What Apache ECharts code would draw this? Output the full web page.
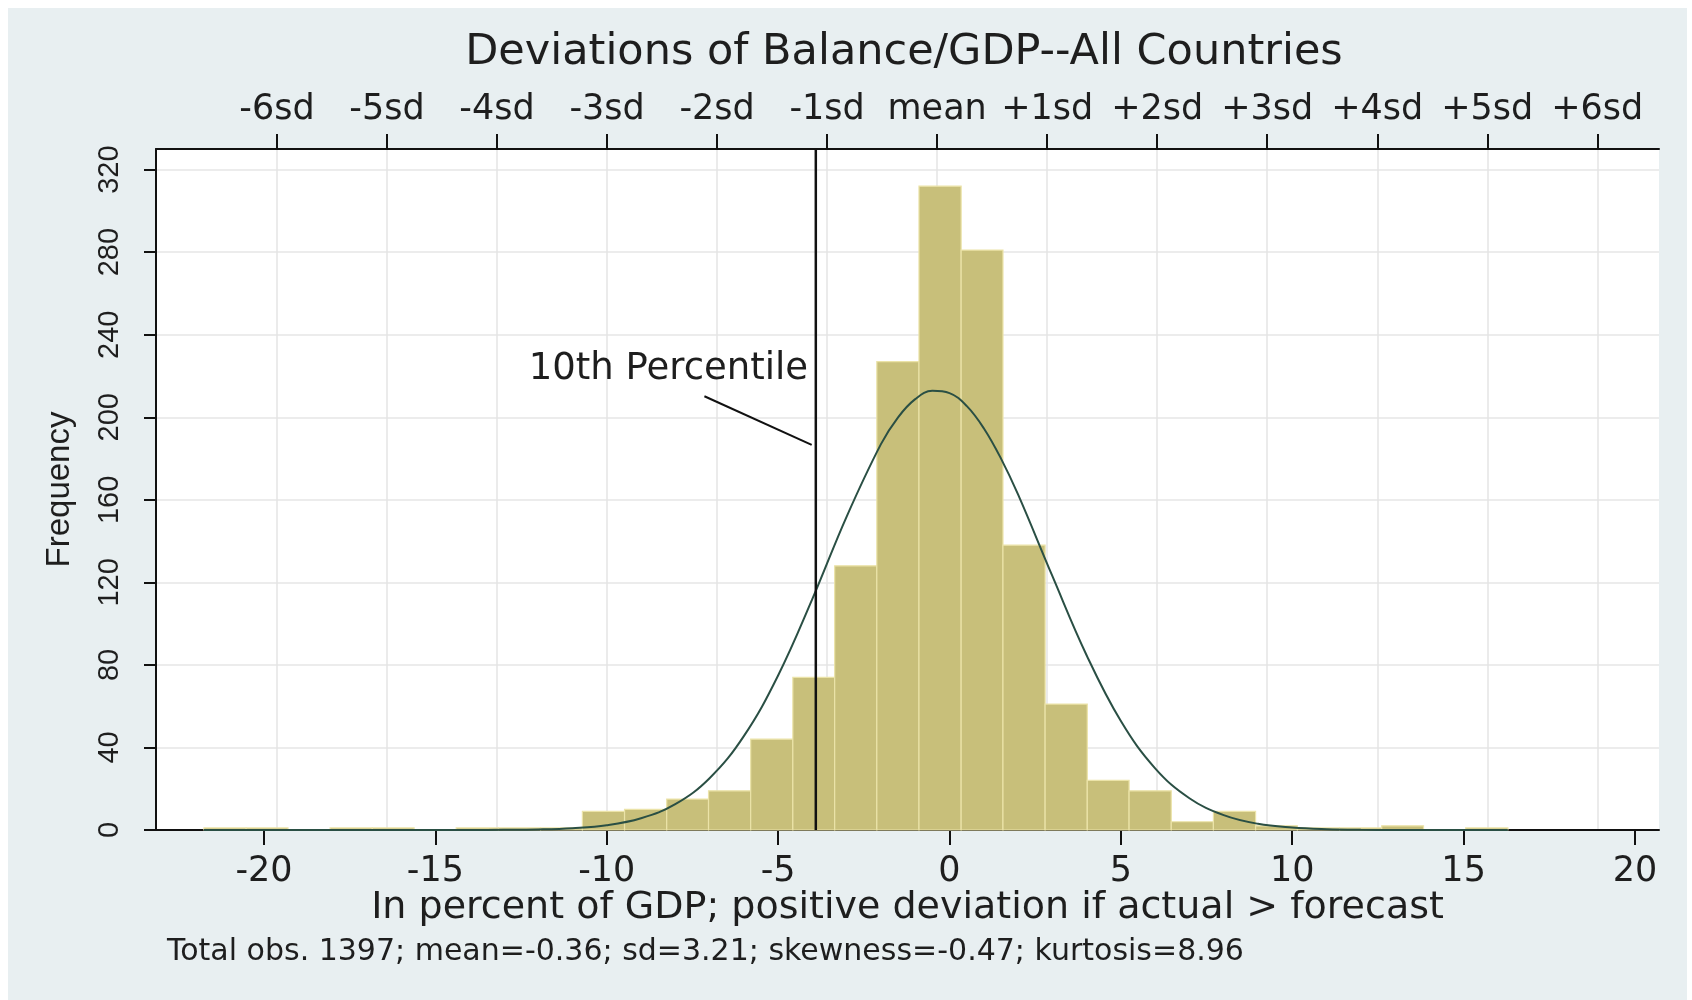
<!DOCTYPE html>
<html><head><meta charset="utf-8">
<script src="https://cdn.jsdelivr.net/npm/echarts@6/dist/echarts.min.js"></script>
<style>
html,body{margin:0;padding:0;background:#fff}
#wrap{position:relative;width:1692px;height:1000px;background:#fff}
#bg{position:absolute;left:8px;top:8px;width:1679px;height:992px;background:#e8eff1}
#c{position:absolute;left:0;top:0;width:1692px;height:1000px}
</style>
</head><body><div id="wrap"><div id="bg"></div><div id="c"></div></div>
<script>
// Histogram bins (left edges ... right edge) and frequencies
const binEdges = [-21.75, -20.52, -19.30, -18.07, -16.84, -15.62, -14.39, -13.16, -11.93, -10.71,
  -9.48, -8.25, -7.03, -5.80, -4.57, -3.35, -2.12, -0.89, 0.34, 1.56, 2.79, 4.02, 5.24, 6.47,
  7.70, 8.93, 10.15, 11.38, 12.61, 13.83, 15.06, 16.29];
const binCounts = [1, 1, 0, 1, 1, 0, 1, 1, 1,
  9, 10, 15, 19, 44, 74, 128, 227, 312, 281, 138, 61,
  24, 19, 4, 9, 2, 1, 1, 2, 0, 1];

// Normal density overlay
const curveX = [-21.75, -14, -13, -12, -11, -10, -9, -8, -7, -6, -5, -4, -3, -2, -1.5, -1, -0.5, 0, 0.5, 1, 1.5, 2, 3, 4, 5, 6, 7, 8, 9, 10, 11, 12, 13, 16.29];
const curveY = [0, 0.03, 0.1, 0.3, 0.9, 2.3, 5.7, 12.5, 25.1, 45.5, 74.9, 112.0, 151.9, 187.0, 200.0, 208.8, 212.8, 211.7, 205.5, 194.7, 180.1, 162.6, 123.1, 84.7, 52.8, 29.9, 15.4, 7.2, 3.0, 1.2, 0.4, 0.1, 0.03, 0];

// 10th percentile marker and its annotation
const p10X = -3.9;
const pointerX = [-7.15, -4.02];
const pointerY = [210.2, 186.6];
const p10Label = '10th Percentile';
const p10LabelPos = [-8.2, 223.3];

// Axis ticks
const xTicks = [-20, -15, -10, -5, 0, 5, 10, 15, 20];
const yTicks = [0, 40, 80, 120, 160, 200, 240, 280, 320];
const sdTickValues = [-19.62, -16.41, -13.20, -9.99, -6.78, -3.57, -0.36, 2.85, 6.06, 9.27, 12.48, 15.69, 18.90];
const sdTickLabels = ['-6sd', '-5sd', '-4sd', '-3sd', '-2sd', '-1sd', 'mean', '+1sd', '+2sd', '+3sd', '+4sd', '+5sd', '+6sd'];

const titleText = 'Deviations of Balance/GDP--All Countries';
const xTitle = 'In percent of GDP; positive deviation if actual > forecast';
const yTitle = 'Frequency';
const noteText = 'Total obs. 1397; mean=-0.36; sd=3.21; skewness=-0.47; kurtosis=8.96';

const X_MIN = -23.15, X_MAX = 20.70, Y_MAX = 330;
const HF = 'DejaVu Sans';
const VF = 'Liberation Sans';
const TXT = '#1e1e1e';

const barData = binCounts.map((c, i) => [binEdges[i], binEdges[i + 1], c]);
const curveData = curveX.map((x, i) => [x, curveY[i]]);

const chart = echarts.init(document.getElementById('c'), null, {renderer: 'canvas'});
chart.setOption({
  backgroundColor: 'transparent',
  animation: false,
  graphic: [
    {type: 'text', x: 904, y: 53, style: {text: titleText, font: '43px "DejaVu Sans"', fill: TXT, textAlign: 'center', textVerticalAlign: 'middle'}},
    {type: 'text', x: 167, y: 952, style: {text: noteText, font: '30px "DejaVu Sans"', fill: TXT, textAlign: 'left', textVerticalAlign: 'middle'}}
  ],
  grid: {left: 156, right: 33, top: 149, bottom: 170, show: true, backgroundColor: '#fff', borderWidth: 0, containLabel: false, outerBoundsMode: 'none'},
  xAxis: [
    {
      type: 'value', min: X_MIN, max: X_MAX, position: 'bottom',
      axisLine: {show: true, onZero: false, lineStyle: {color: '#111', width: 2}},
      axisTick: {show: true, length: 15, customValues: xTicks, lineStyle: {color: '#111', width: 2}},
      axisLabel: {customValues: xTicks, fontFamily: HF, fontSize: 35, color: TXT, margin: 24},
      splitLine: {show: false},
      name: xTitle, nameLocation: 'middle', nameGap: 59, nameMoveOverlap: false,
      nameTextStyle: {fontFamily: HF, fontSize: 38, color: TXT}
    },
    {
      type: 'value', min: X_MIN, max: X_MAX, position: 'top',
      axisLine: {show: true, onZero: false, lineStyle: {color: '#111', width: 2}},
      axisTick: {show: true, length: 15, customValues: sdTickValues, lineStyle: {color: '#111', width: 2}},
      axisLabel: {customValues: sdTickValues, fontFamily: HF, fontSize: 35, color: TXT, margin: 22,
        formatter: v => { const i = sdTickValues.findIndex(t => Math.abs(t - v) < 1e-6); return i >= 0 ? sdTickLabels[i] : ''; }},
      splitLine: {show: true, lineStyle: {color: '#e4e4e4', width: 1.5}}
    }
  ],
  yAxis: {
    type: 'value', min: 0, max: Y_MAX,
    axisLine: {show: true, onZero: false, lineStyle: {color: '#111', width: 2}},
    axisTick: {show: true, length: 12, customValues: yTicks, lineStyle: {color: '#111', width: 2}},
    axisLabel: {customValues: yTicks, rotate: 90, fontFamily: VF, fontSize: 29, color: TXT, margin: 32},
    splitLine: {show: true, lineStyle: {color: '#e6e6e6', width: 1.5}},
    name: yTitle, nameLocation: 'middle', nameGap: 80, nameRotate: 90,
    nameTextStyle: {fontFamily: VF, fontSize: 33, color: TXT}
  },
  series: [
    {
      type: 'custom', xAxisIndex: 0, yAxisIndex: 0, z: 2,
      data: barData,
      encode: {x: [0, 1], y: 2},
      renderItem: (params, api) => {
        const h = api.value(2);
        if (!h) return null;
        const p0 = api.coord([api.value(0), 0]);
        const p1 = api.coord([api.value(1), h]);
        return {type: 'rect', shape: {x: p0[0], y: p1[1], width: p1[0] - p0[0], height: p0[1] - p1[1]},
          style: {fill: '#c8bf7a', stroke: '#ebe3a8', lineWidth: 1.2}};
      }
    },
    {
      type: 'line', xAxisIndex: 0, data: curveData, smooth: 0.4, showSymbol: false, z: 4,
      lineStyle: {color: '#2a4f44', width: 2}
    },
    {
      type: 'line', xAxisIndex: 0, data: [[p10X, 0], [p10X, Y_MAX]], showSymbol: false, z: 5,
      lineStyle: {color: '#111', width: 2.5}
    },
    {
      type: 'line', xAxisIndex: 0, data: [[pointerX[0], pointerY[0]], [pointerX[1], pointerY[1]]], showSymbol: false, z: 5,
      lineStyle: {color: '#111', width: 2}
    },
    {
      type: 'scatter', xAxisIndex: 0, data: [p10LabelPos], symbolSize: 0, itemStyle: {color: '#1e1e1e', opacity: 1}, z: 6,
      label: {show: true, position: 'inside', formatter: p10Label, fontFamily: HF, fontSize: 37, color: '#1e1e1e', opacity: 1, textBorderWidth: 0}
    }
  ]
});
</script>
</body></html>
